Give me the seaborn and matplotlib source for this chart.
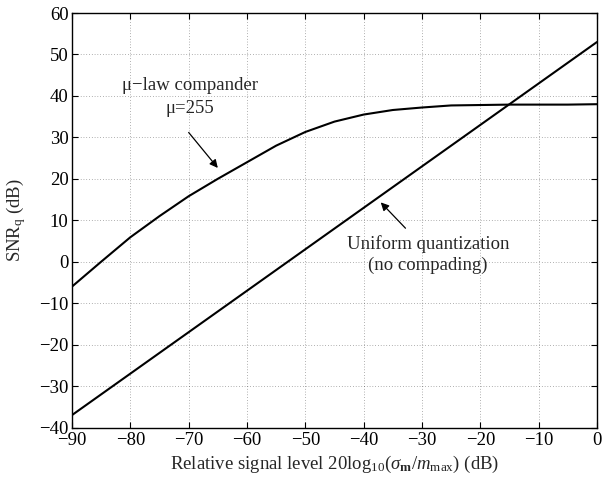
import matplotlib
matplotlib.use("Agg")
import matplotlib.pyplot as plt
import seaborn as sns
import pandas as pd

# Data
mu_x = [-90, -85, -80, -75, -70, -65, -60, -55, -50, -45, -40, -35, -30, -25, -20, -15, -10, -5, 0]
mu_y = [-6.0, 0.0, 5.9, 11.0, 15.8, 20.0, 24.0, 28.0, 31.3, 33.8, 35.5, 36.6, 37.2, 37.7, 37.8, 37.9, 37.9, 37.9, 38.0]
uni_x = [-90, -80, -70, -60, -50, -40, -30, -20, -10, 0]
uni_y = [-37.0, -27.0, -17.0, -7.0, 3.0, 13.0, 23.0, 33.0, 43.0, 53.0]
x_ticks = [-90, -80, -70, -60, -50, -40, -30, -20, -10, 0]
y_ticks = [-40, -30, -20, -10, 0, 10, 20, 30, 40, 50, 60]

sns.set_style("ticks")
plt.rcParams['font.family'] = ['Liberation Serif', 'DejaVu Serif']
plt.rcParams['mathtext.fontset'] = 'custom'
plt.rcParams['mathtext.rm'] = 'Liberation Serif'
plt.rcParams['mathtext.it'] = 'Liberation Serif:italic'
plt.rcParams['mathtext.bf'] = 'Liberation Serif:bold'

FS = 13.5
fig = plt.figure(figsize=(6.03, 4.78), dpi=100)
ax = fig.add_axes([0.1194, 0.1056, 0.8706, 0.8672])

df_mu = pd.DataFrame({"x": mu_x, "y": mu_y})
df_uni = pd.DataFrame({"x": uni_x, "y": uni_y})
sns.lineplot(data=df_mu, x="x", y="y", ax=ax, color="black", lw=1.5)
sns.lineplot(data=df_uni, x="x", y="y", ax=ax, color="black", lw=1.5)

ax.set_xlim(-90, 0)
ax.set_ylim(-40, 60)
ax.set_xticks(x_ticks)
ax.set_yticks(y_ticks)
ax.set_xticklabels([("\u2212%d" % -t) if t < 0 else str(t) for t in x_ticks], fontsize=FS)
ax.set_yticklabels([("\u2212%d" % -t) if t < 0 else str(t) for t in y_ticks], fontsize=FS)
ax.tick_params(direction='in', top=True, right=True, length=4, width=0.8, colors='black')
ax.tick_params(axis='x', pad=3.5)
ax.tick_params(axis='y', pad=2.5)
for s in ax.spines.values():
    s.set_visible(True)
    s.set_color('black')
    s.set_linewidth(1.0)
ax.grid(True, linestyle=(0, (1, 3)), color='black', linewidth=0.5, alpha=0.6)

ax.set_xlabel(r"Relative signal level 20log$_{10}$($\sigma_{\mathbf{m}}$/$m_{\rm max}$) (dB)", fontsize=FS, labelpad=3)
ax.set_ylabel(r"SNR$_{\rm q}$ (dB)", fontsize=FS, labelpad=8)

ax.text(-69.7, 42.6, "\u03bc\u2212law compander", ha='center', va='center', fontsize=FS)
ax.text(-69.8, 37.0, "\u03bc=255", ha='center', va='center', fontsize=FS)
ax.annotate("", xy=(-64.7, 22.1), xytext=(-70.3, 31.7),
            arrowprops=dict(arrowstyle='-|>', color='black', lw=0.9, mutation_scale=12))
ax.text(-29.0, 4.2, "Uniform quantization", ha='center', va='center', fontsize=FS)
ax.text(-29.0, -0.9, "(no compading)", ha='center', va='center', fontsize=FS)
ax.annotate("", xy=(-37.4, 14.8), xytext=(-32.5, 7.6),
            arrowprops=dict(arrowstyle='-|>', color='black', lw=0.9, mutation_scale=12))

fig.savefig("out.png", dpi=100)
